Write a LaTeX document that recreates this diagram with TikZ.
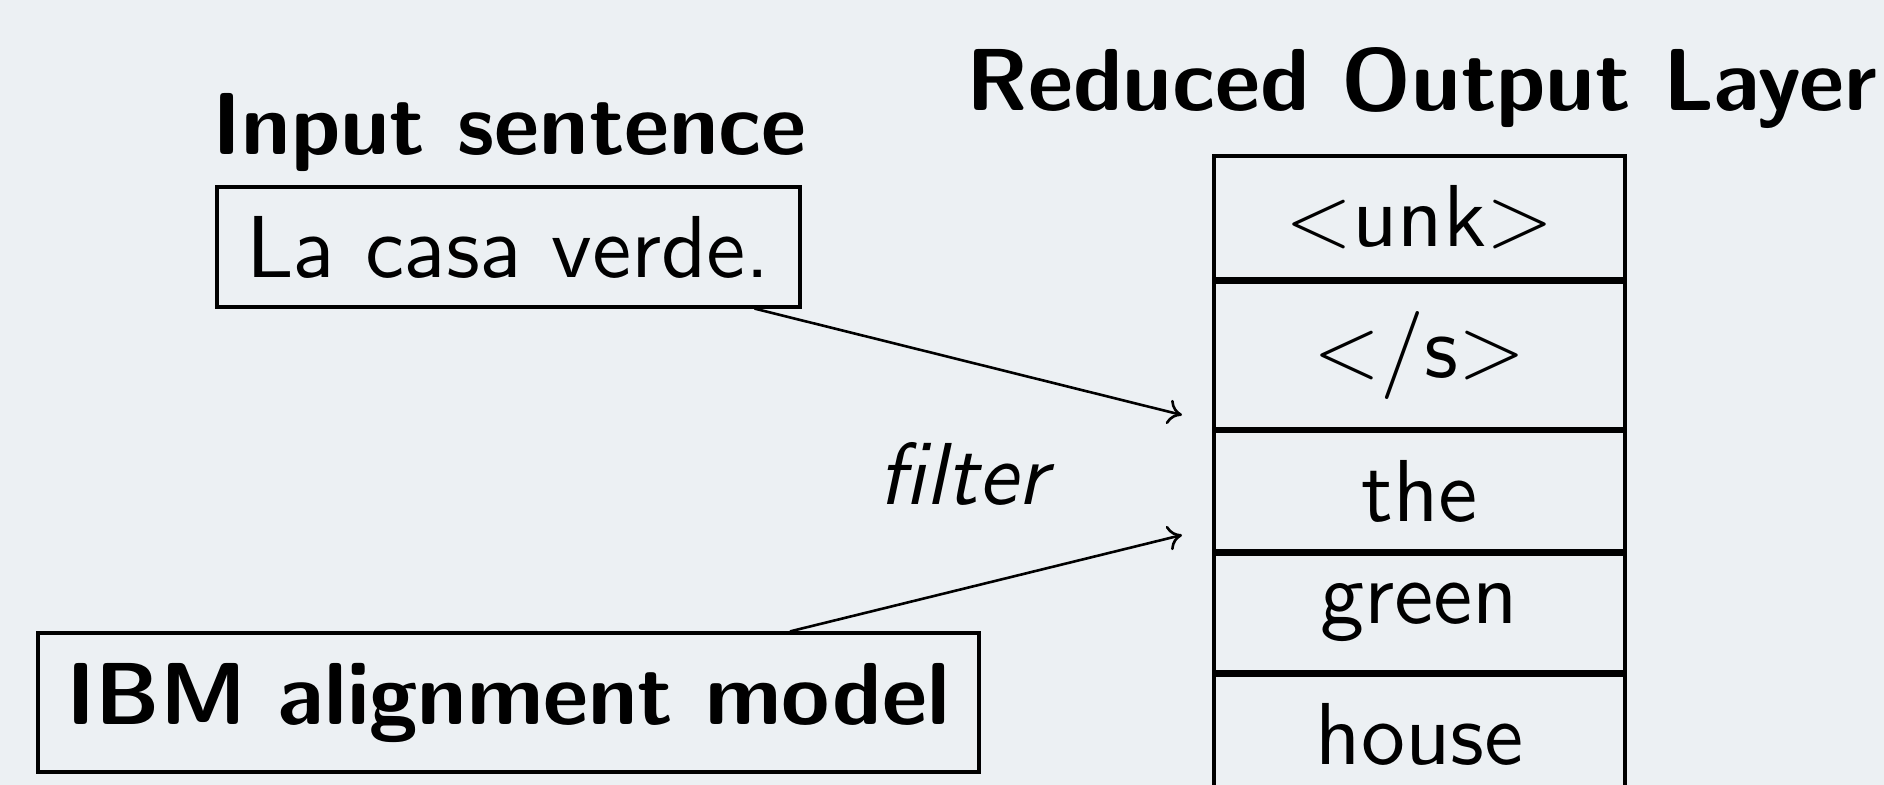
\RequirePackage{fix-cm}
\documentclass[tikz,border=0pt]{standalone}
\usetikzlibrary{arrows.meta}
\definecolor{bg}{RGB}{236,240,243}
\DeclareFontFamily{OT1}{mycmss}{}
\DeclareFontShape{OT1}{mycmss}{m}{n}{<-> cmss10}{}
\DeclareFontShape{OT1}{mycmss}{m}{it}{<-> cmssi10}{}
\DeclareFontShape{OT1}{mycmss}{bx}{n}{<-> cmssbx10}{}
\newcommand{\cmssfont}{\fontencoding{OT1}\fontfamily{mycmss}\fontsize{44pt}{53pt}\selectfont}
\tikzset{
  txt/.style={font=\cmssfont, inner sep=0pt},
  boldtxt/.style={font=\cmssfont\bfseries, inner sep=0pt},
  itxt/.style={font=\cmssfont\itshape, inner sep=0pt},
  boxed/.style={draw=black, line width=1.6pt, align=center},
  outbox/.style={txt, boxed, minimum width=205.5pt},
  arr/.style={line width=1.3pt, -{Computer Modern Rightarrow[length=7pt,width=12.5pt]}}
}
\begin{document}
\begin{tikzpicture}[x=0.5pt,y=-0.5pt]
\fill[bg] (0,0) rectangle (1884,785);
\useasboundingbox (0,0) rectangle (1884,785);
\clip (0,0) rectangle (1884,785);

% titles
\node[boldtxt, anchor=base] (intitle) at (510,155) {Input sentence};
\node[boldtxt, anchor=base] (outtitle) at (1422,111) {Reduced Output Layer};

% input and IBM boxes
\node[txt, boxed, minimum width=291.5pt, minimum height=60pt] (in) at (508.5,247) {La casa verde.};
\node[boldtxt, boxed, minimum width=470.5pt, minimum height=69.5pt] (ibm) at (508.5,702.5) {IBM alignment model};

% output layer
\node[outbox, minimum height=61.5pt] (unk) at (1419.5,217.5) {$<$unk$>$};
\node[outbox, minimum height=73.5pt] (eos) at (1419.5,355.5) {$<$/s$>$};
\node[outbox, minimum height=60pt] (the) at (1419.5,491) {the};
\node[outbox, minimum height=59pt] (green) at (1419.5,613) {green};
\node[outbox, minimum height=59pt] (house) at (1419.5,734) {house};

% filter label
\node[itxt, anchor=base] (filter) at (963,505) {filter};

% arrows
\coordinate (t1) at (1182,415);
\coordinate (t2) at (1182,535);
\draw[arr] ([xshift=123pt]in.south) -- (t1);
\draw[arr] ([xshift=140.75pt]ibm.north) -- (t2);
\end{tikzpicture}
\end{document}
